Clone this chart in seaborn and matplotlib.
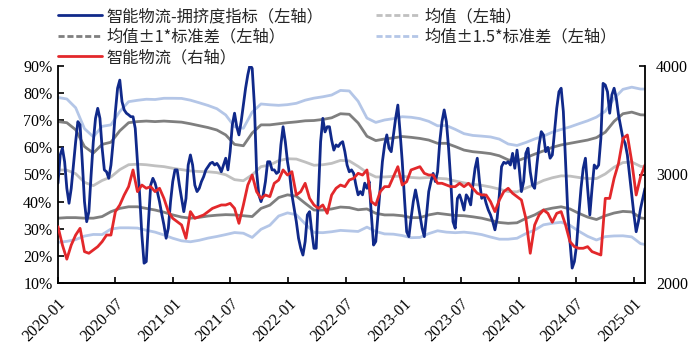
import pandas as pd
import seaborn as sns
import matplotlib
matplotlib.use("Agg")
from matplotlib import pyplot as plt
import matplotlib.dates as mdates
from matplotlib.lines import Line2D

# weekly crowding indicator (%), left axis
crowd_dates = pd.date_range("2020-01-01", periods=267, freq="7D")
crowd = [
    46.8, 57.2, 59.7, 54.7, 44.9, 39.4, 44.9, 53.5, 62.1, 69.5,
    68.3, 54.7, 40.0, 32.6, 36.3, 49.8, 62.1, 70.7, 74.4, 70.7,
    59.7, 51.7, 51.0, 48.6, 53.5, 62.1, 73.2, 81.8, 84.8, 76.9,
    73.8, 72.6, 72.0, 71.3, 71.3, 67.0, 54.7, 42.5, 27.7, 17.3,
    17.9, 32.6, 46.1, 48.6, 46.8, 43.7, 40.0,
    35.5, 31.4, 26.5, 30.2, 40.0, 47.4, 51.7, 51.7, 46.1, 41.2,
    36.3, 41.2, 53.5, 57.2, 53.5, 46.1, 43.7, 44.9, 47.4, 49.2,
    51.7, 52.9, 54.1, 54.5, 53.5, 54.1, 52.9, 51.0, 53.5, 56.0,
    51.7, 58.4, 68.3, 72.6, 67.6, 64.6, 69.5, 75.6, 81.8, 86.7,
    90.4, 89.1, 75.6, 51.0, 42.5,
    40.0, 42.5, 47.4, 54.7, 54.7, 51.7, 51.7, 50.4, 51.0, 60.9,
    67.6, 62.1, 54.7, 49.8, 42.5, 37.5, 32.6, 26.5, 22.8, 20.3,
    25.3, 35.1, 36.3, 28.9, 22.8, 22.8, 42.5, 62.1, 70.7, 65.7,
    67.6, 67.6, 62.7, 59.0, 60.9, 60.3, 61.5, 62.1, 58.4, 53.5,
    51.0, 51.7, 50.4, 46.1, 42.5,
    43.7, 42.5, 46.8, 44.9, 47.4, 35.1, 24.0, 25.3, 35.1, 44.9,
    54.7, 60.9, 64.6, 59.7, 58.4, 64.6, 70.7, 75.6, 65.7, 54.7,
    41.2, 28.9, 27.1, 33.9, 40.0, 44.3, 40.0, 35.1, 30.2, 27.1,
    35.1, 43.7, 47.4, 50.4, 47.4, 51.0, 62.1, 69.5, 73.8, 69.5,
    59.7, 47.4, 32.6, 30.2, 41.2,
    42.5, 40.0, 36.9, 42.5, 41.2, 38.8, 46.1, 52.3, 56.0, 47.4,
    41.2, 42.5, 39.4, 36.9, 35.1, 32.6, 29.6, 33.9, 42.5, 52.9,
    54.5, 54.1, 54.7, 53.5, 57.8, 52.3, 59.0, 52.3, 43.7, 47.4,
    57.8, 59.7, 51.0, 46.1, 44.9, 53.5, 60.9, 65.8, 64.6, 58.4,
    60.0, 56.0, 57.2,
    65.8, 74.4, 80.5, 81.8, 73.2, 54.7, 36.3, 25.3, 15.5, 17.9,
    24.0, 35.1, 44.9, 52.3, 56.0, 44.9, 35.1, 44.9, 53.5, 52.3,
    53.5, 63.3, 83.6, 83.0, 80.5, 72.6, 79.4, 81.8, 78.1, 71.9,
    67.6, 63.3, 61.5, 57.2, 49.8, 42.5, 35.1, 28.9, 32.6, 37.5,
    41.2, 44.9,
]

# smart logistics index, right axis
logi_dates = pd.date_range("2020-01-01", periods=134, freq="14D")
logi = [
    2519, 2350, 2220, 2350, 2442, 2504, 2289, 2274, 2304, 2335,
    2381, 2442, 2442, 2658, 2719, 2811, 2888, 3042, 2842, 2903,
    2873, 2888, 2842, 2873,
    2780, 2658, 2596, 2565, 2535, 2412, 2658, 2596, 2611, 2627,
    2658, 2688, 2704, 2719, 2719, 2734, 2688, 2550, 2719, 2903,
    2995, 2842,
    2780, 2811, 2796, 2919, 2949, 3042, 2995, 3026, 2811, 2842,
    2919, 2780, 2719, 2688, 2719, 2642, 2811, 2873, 2903, 2888,
    2949, 2965, 3011,
    2995, 3042, 2750, 2719, 2842, 2888, 2888, 2980, 3072, 2903,
    2934, 3042, 3057, 3072, 3011, 2995, 2995, 2919, 2919, 2903,
    2888, 2888, 2919,
    2888, 2919, 2873, 2827, 2811, 2811, 2750, 2658, 2765, 2842,
    2873, 2827, 2796, 2765, 2596, 2274, 2535, 2627, 2673, 2642,
    2560,
    2642, 2658, 2535, 2381, 2335, 2320, 2320, 2335, 2289, 2274,
    2258, 2780, 2780, 2965, 3103, 3333, 3364, 3118, 2811, 2980,
    3088,
]

# rolling mean / std of the crowding indicator (%)
band_dates = pd.date_range("2020-01-01", periods=68, freq="28D")
band_mean = [
    51.7, 51.6, 50.3, 47.1, 45.9, 47.8, 49.1, 51.8, 53.6, 53.8,
    53.6, 53.2, 52.9, 52.3, 51.8, 51.3, 51.1, 51.0, 50.7, 49.9,
    48.1, 47.7, 49.9, 52.9, 53.5, 55.1, 55.8, 55.7, 54.6, 53.4,
    53.6, 54.1, 55.2, 55.0, 53.0, 50.7, 49.1, 49.1, 49.3, 49.4,
    48.9, 48.7, 48.9, 48.6, 48.4, 47.6, 46.9, 46.4, 46.0, 45.4,
    44.6, 43.7, 43.6, 45.0, 46.3, 47.8, 48.8, 49.5, 49.4, 48.9,
    48.5, 48.5, 50.2, 52.7, 54.4, 54.6, 53.0, 52.7,
]
band_std = [
    17.8, 17.5, 16.2, 13.2, 12.0, 13.3, 12.8, 14.3, 15.5, 15.7,
    16.1, 16.3, 16.8, 17.2, 17.5, 17.4, 16.9, 16.3, 15.7, 14.7,
    13.0, 12.9, 15.4, 15.4, 14.8, 13.6, 13.3, 13.7, 15.2, 16.5,
    16.7, 16.8, 17.2, 17.2, 16.0, 13.4, 13.4, 14.0, 14.2, 14.6,
    14.8, 14.6, 13.8, 12.9, 13.1, 12.7, 12.1, 12.0, 12.1, 12.3,
    12.3, 11.7, 11.4, 11.2, 11.2, 10.9, 11.2, 11.4, 12.1, 13.2,
    14.2, 15.1, 15.4, 16.9, 18.0, 18.4, 19.0, 19.2,
]

crowd_df = pd.DataFrame({"date": crowd_dates, "value": crowd})
logi_df = pd.DataFrame({"date": logi_dates, "value": logi})
bands = pd.DataFrame({"date": band_dates, "mean": band_mean, "std": band_std})
bands["up1"] = bands["mean"] + bands["std"]
bands["lo1"] = bands["mean"] - bands["std"]
bands["up15"] = bands["mean"] + 1.5 * bands["std"]
bands["lo15"] = bands["mean"] - 1.5 * bands["std"]

BLUE = "#10298a"
RED = "#e3282b"
MEAN_C = "#c0c0c0"
SD1_C = "#7f7f7f"
SD15_C = "#b4c6e7"
LW = 2.0

sns.set_style("ticks")
plt.rcParams["font.family"] = ["Noto Sans CJK SC", "DejaVu Sans"]

fig = plt.figure(figsize=(6.98, 3.63), dpi=100)
ax = fig.add_axes([58 / 698, 1 - 283 / 363, (645 - 58) / 698, (283 - 66) / 363])

for col, c in [("up15", SD15_C), ("lo15", SD15_C), ("up1", SD1_C), ("lo1", SD1_C), ("mean", MEAN_C)]:
    sns.lineplot(data=bands, x="date", y=col, ax=ax, color=c, lw=LW, legend=False)
sns.lineplot(data=crowd_df, x="date", y="value", ax=ax, color=BLUE, lw=LW, legend=False)

ax2 = ax.twinx()
sns.lineplot(data=logi_df, x="date", y="value", ax=ax2, color=RED, lw=LW, legend=False)

ax.set_xlim(crowd_dates[0], crowd_dates[-1])
ax.set_ylim(10, 90)
ax.set_yticks(range(10, 91, 10))
ax.yaxis.set_major_formatter(plt.FuncFormatter(lambda v, p: f"{v:.0f}%"))
ax2.set_ylim(2000, 4000)
ax2.set_yticks([2000, 3000, 4000])

ax.xaxis.set_major_locator(mdates.MonthLocator(bymonth=[1, 7]))
ax.xaxis.set_major_formatter(mdates.DateFormatter("%Y-%m"))
ax.set(xlabel="", ylabel="")
ax2.set(xlabel="", ylabel="")

for a in (ax, ax2):
    a.spines["top"].set_visible(False)
    for s in a.spines.values():
        s.set_linewidth(1.3)
        s.set_color("black")
    a.tick_params(direction="in", length=4, width=1.2, colors="black",
                  labelsize=11.5, labelfontfamily="Liberation Serif")
ax.spines["right"].set_visible(False)
ax2.spines["left"].set_visible(False)
ax.tick_params(axis="y", pad=4)
ax2.tick_params(axis="y", pad=8)
ax.tick_params(axis="x", pad=9)
plt.setp(ax.get_xticklabels(), rotation=45, ha="right", rotation_mode="anchor")

handles = [
    Line2D([], [], color=BLUE, lw=LW),
    Line2D([], [], color=SD1_C, lw=LW, dashes=(2.2, 1.0)),
    Line2D([], [], color=RED, lw=LW),
    Line2D([], [], color=MEAN_C, lw=LW, dashes=(2.2, 1.0)),
    Line2D([], [], color=SD15_C, lw=LW, dashes=(2.2, 1.0)),
]
labels = [
    "智能物流-拥挤度指标（左轴）",
    "均值±1*标准差（左轴）",
    "智能物流（右轴）",
    "均值（左轴）",
    "均值±1.5*标准差（左轴）",
]
fig.legend(handles, labels, ncol=2, loc="upper left", bbox_to_anchor=(58 / 698, 1 - 8 / 363),
           frameon=False, fontsize=11.7, handlelength=2.7, handletextpad=0.3,
           columnspacing=3.2, labelspacing=0.22, borderpad=0, borderaxespad=0)

fig.savefig("out.png", dpi=100)
